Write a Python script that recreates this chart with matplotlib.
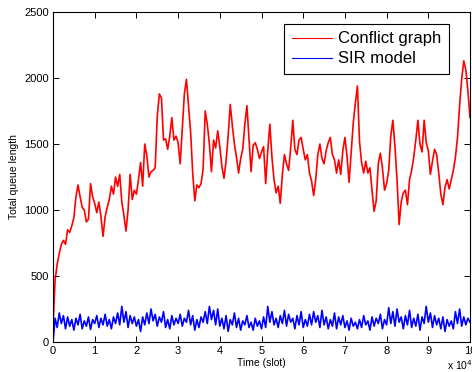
import numpy as np
import matplotlib
matplotlib.use("Agg")
import matplotlib.pyplot as plt

plt.rcParams['font.family'] = ['Liberation Sans', 'DejaVu Sans']

# total queue length, one reading every 500 slots
conflict = [120,
    470, 590, 670, 740, 770, 740, 850, 830, 880, 940,
    1100, 1190, 1100, 1020, 1000, 910, 930, 1200, 1100, 1050,
    980, 1060, 950, 800, 950, 1020, 1080, 1180, 1120, 1250,
    1180, 1270, 1060, 960, 840, 1000, 1270, 1080, 1150, 1120,
    1230, 1360, 1180, 1500, 1410, 1250, 1290, 1300, 1320, 1710,
    1880, 1850, 1530, 1540, 1460, 1560, 1700, 1530, 1560, 1510,
    1350, 1620, 1880, 1990, 1790, 1590, 1280, 1070, 1190, 1170,
    1200, 1310, 1750, 1650, 1500, 1290, 1530, 1470, 1600, 1480,
    1330, 1240, 1370, 1560, 1800, 1640, 1500, 1400, 1280, 1390,
    1460, 1650, 1790, 1540, 1290, 1490, 1510, 1460, 1390, 1440,
    1480, 1200, 1450, 1650, 1400, 1230, 1130, 1180, 1050, 1270,
    1420, 1350, 1300, 1470, 1680, 1460, 1420, 1530, 1550, 1460,
    1380, 1420, 1280, 1220, 1110, 1230, 1420, 1500, 1390, 1350,
    1450, 1510, 1550, 1420, 1380, 1280, 1380, 1270, 1450, 1550,
    1410, 1210, 1430, 1660, 1810, 1940, 1520, 1360, 1280, 1370,
    1280, 1320, 1150, 990, 1070, 1350, 1430, 1320, 1150, 1200,
    1300, 1560, 1680, 1480, 1230, 890, 1060, 1130, 1150, 1040,
    1230, 1300, 1400, 1530, 1680, 1500, 1440, 1680, 1510, 1450,
    1270, 1370, 1460, 1420, 1280, 1120, 1040, 1170, 1230, 1160,
    1230, 1300, 1400, 1550, 1790, 1990, 2130, 2060, 1900, 1700]

sir = [0,
    180, 110, 220, 140, 200, 100, 190, 120, 170, 90, 180, 130, 210, 100, 160, 120, 190, 95, 170, 140,
    200, 110, 180, 130, 210, 120, 170, 100, 190, 140, 220, 130, 270, 150, 230, 110, 200, 140, 190, 120,
    170, 80, 190, 130, 220, 140, 250, 160, 210, 120, 190, 150, 230, 110, 170, 100, 200, 130, 180, 140,
    210, 120, 180, 150, 240, 130, 200, 90, 170, 110, 190, 150, 230, 140, 270, 170, 240, 130, 250, 120,
    180, 100, 200, 80, 170, 130, 220, 110, 180, 90, 160, 130, 200, 110, 150, 90, 180, 120, 160, 100,
    190, 110, 270, 150, 230, 130, 180, 110, 200, 140, 240, 120, 210, 150, 180, 100, 200, 130, 230, 110,
    170, 120, 210, 130, 230, 150, 200, 110, 240, 130, 190, 100, 170, 120, 220, 100, 190, 130, 200, 110,
    160, 90, 180, 120, 150, 100, 170, 110, 200, 130, 160, 90, 190, 120, 180, 140, 210, 100, 170, 130,
    260, 140, 230, 120, 250, 150, 190, 100, 200, 130, 240, 110, 180, 120, 210, 90, 190, 140, 270, 150,
    220, 110, 200, 130, 180, 100, 190, 80, 170, 120, 160, 100, 230, 140, 250, 120, 190, 130, 180, 150]

step = 500
t = np.arange(len(conflict)) * step

xticks = [0, 1, 2, 3, 4, 5, 6, 7, 8, 9, 10]
yticks = [0, 500, 1000, 1500, 2000, 2500]

fig = plt.figure(figsize=(4.72, 3.72), dpi=100)
ax = fig.add_axes([0.1123, 0.0806, 0.8835, 0.8871])

ax.plot(t, conflict, color='#ff0000', lw=1.2, label='Conflict graph')
ax.plot(t, sir, color='#0000ff', lw=1.2, label='SIR model')

ax.set_xlim(0, 1e5)
ax.set_ylim(0, 2500)
ax.set_xticks([v * 1e4 for v in xticks])
ax.set_xticklabels([str(v) for v in xticks])
ax.set_yticks(yticks)
ax.tick_params(direction='in', length=4, width=0.7, labelsize=8,
               top=True, right=True, pad=3)
for s in ax.spines.values():
    s.set_linewidth(0.8)

ax.set_xlabel('Time (slot)', fontsize=7.5, labelpad=1)
ax.set_ylabel('Total queue length', fontsize=7.5, labelpad=4)

fig.text(0.947, 0.0, r'x 10$^4$', fontsize=7.5, va='bottom')

leg = ax.legend(loc='upper right', bbox_to_anchor=(0.95, 0.964),
                borderaxespad=0, fontsize=12, fancybox=False,
                framealpha=1, edgecolor='black', handlelength=2.4,
                handletextpad=0.4, borderpad=0.45, labelspacing=0.3)
leg.get_frame().set_linewidth(0.8)
for line in leg.get_lines():
    line.set_linewidth(0.8)

fig.savefig('out.png', dpi=100)
